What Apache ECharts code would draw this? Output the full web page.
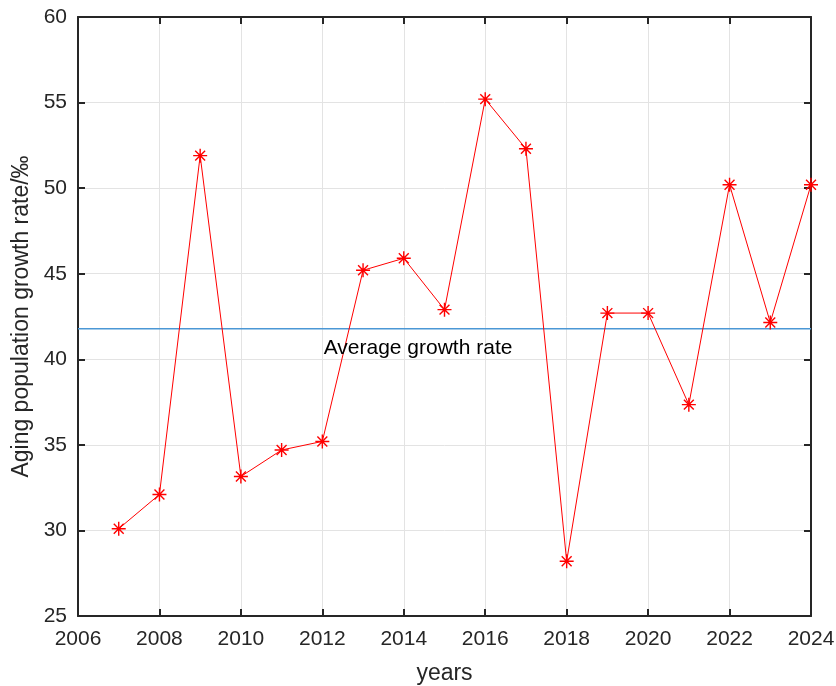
<!DOCTYPE html>
<html>
<head>
<meta charset="utf-8">
<script src="https://cdn.jsdelivr.net/npm/echarts@6/dist/echarts.min.js"></script>
<style>
  html, body { margin: 0; padding: 0; background: #fff; }
  #chart { width: 836px; height: 686px; }
</style>
</head>
<body>
<div id="chart"></div>
<script>
// Yearly growth rate of the aging population (per mille)
const years = [2007, 2008, 2009, 2010, 2011, 2012, 2013, 2014, 2015,
               2016, 2017, 2018, 2019, 2020, 2021, 2022, 2023, 2024];
const rates = [30.1, 32.1, 51.9, 33.15, 34.7, 35.2, 45.2, 45.9, 42.9,
               55.2, 52.3, 28.2, 42.7, 42.7, 37.35, 50.2, 42.15, 50.2];

const xRange = [2006, 2024];
const yRange = [25, 60];
const avgLabel = 'Average growth rate';
const avgLabelAt = [2014.35, 40.65];

const average = rates.reduce((s, v) => s + v, 0) / rates.length;

const axisColor = '#262626';
const gridColor = '#e3e3e3';
const fontFamily = 'Liberation Sans, Arial, Helvetica, sans-serif';

// eight-armed asterisk marker
const asterisk = 'path://M10,0L10,20M0,10L20,10M2.93,2.93L17.07,17.07M2.93,17.07L17.07,2.93';

const chart = echarts.init(document.getElementById('chart'), null, { renderer: 'canvas' });

const boxAxis = (extra) => Object.assign({
  type: 'value',
  axisLine: { show: true, lineStyle: { color: axisColor, width: 2 } },
  axisTick: { show: true, inside: true, length: 7, lineStyle: { color: axisColor, width: 2 } },
  splitLine: { show: false },
  axisLabel: { show: false }
}, extra);

chart.setOption({
  animation: false,
  backgroundColor: '#ffffff',
  grid: { left: 78, right: 25, top: 17, bottom: 70, containLabel: false, outerBoundsMode: 'none' },
  xAxis: [
    boxAxis({
      position: 'bottom',
      min: xRange[0], max: xRange[1], interval: 2,
      name: 'years', nameLocation: 'middle', nameGap: 46,
      nameTextStyle: { color: axisColor, fontSize: 23, fontFamily },
      splitLine: { show: true, lineStyle: { color: gridColor, width: 1 } },
      axisLabel: { show: true, color: axisColor, fontSize: 21, fontFamily, margin: 13,
                   formatter: v => String(v) }
    }),
    boxAxis({ position: 'top', min: xRange[0], max: xRange[1], interval: 2 })
  ],
  yAxis: [
    boxAxis({
      position: 'left',
      min: yRange[0], max: yRange[1], interval: 5,
      name: 'Aging population growth rate/‰', nameLocation: 'middle', nameGap: 43,
      nameTextStyle: { color: axisColor, fontSize: 23, fontFamily },
      splitLine: { show: true, lineStyle: { color: gridColor, width: 1 } },
      axisLabel: { show: true, color: axisColor, fontSize: 21, fontFamily, margin: 11 }
    }),
    boxAxis({ position: 'right', min: yRange[0], max: yRange[1], interval: 5 })
  ],
  series: [
    {
      name: 'average',
      type: 'line',
      xAxisIndex: 0, yAxisIndex: 0,
      data: [[xRange[0], average], [xRange[1], average]],
      symbol: 'none',
      lineStyle: { color: '#4b97d5', width: 1.5 },
      z: 3,
      markPoint: {
        symbol: 'circle', symbolSize: 0,
        data: [{ coord: avgLabelAt, value: avgLabel }],
        label: { show: true, position: 'inside', formatter: avgLabel,
                 color: '#000000', fontSize: 21, fontFamily },
        itemStyle: { color: 'transparent' }
      }
    },
    {
      name: 'growth rate',
      type: 'line',
      xAxisIndex: 0, yAxisIndex: 0,
      data: years.map((y, i) => [y, rates[i]]),
      symbol: asterisk,
      symbolSize: 14,
      showAllSymbol: true,
      lineStyle: { color: '#ff0000', width: 1 },
      itemStyle: { color: 'none', borderColor: '#ff0000', borderWidth: 1.4 },
      z: 4
    }
  ]
});
</script>
</body>
</html>
